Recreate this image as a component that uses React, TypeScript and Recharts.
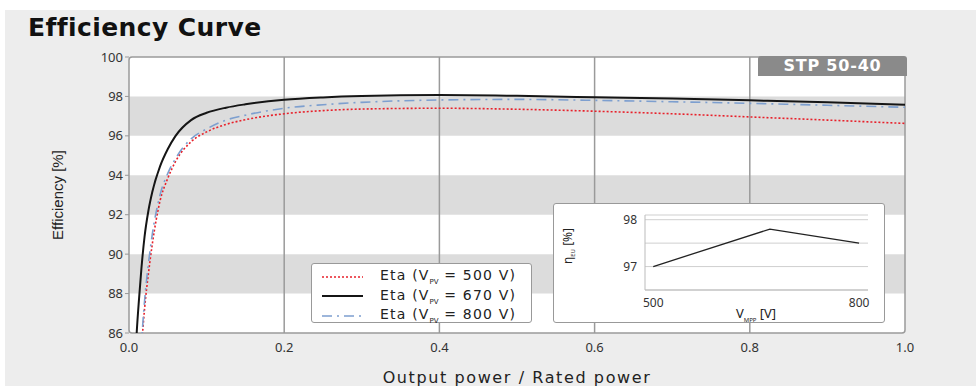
import React from "react";
import {
  LineChart,
  Line,
  XAxis,
  YAxis,
  CartesianGrid,
  ReferenceArea,
  ReferenceLine,
} from "recharts";

// output power / rated power
const load = [0.008, 0.01, 0.013, 0.016, 0.02, 0.025, 0.03, 0.04, 0.05, 0.06, 0.08, 0.1, 0.125, 0.15, 0.2, 0.25, 0.3, 0.4, 0.5, 0.6, 0.7, 0.8, 0.9, 1.0];
const eta500 = [78, 80, 82.8, 85.1, 87.2, 89.0, 90.5, 92.7, 93.85, 94.7, 95.7, 96.2, 96.58, 96.82, 97.12, 97.28, 97.36, 97.4, 97.35, 97.25, 97.12, 96.96, 96.8, 96.63];
const eta670 = [84.57, 86.07, 87.77, 89.27, 90.87, 92.2, 93.15, 94.45, 95.33, 96.0, 96.8, 97.17, 97.43, 97.6, 97.83, 97.95, 98.02, 98.07, 98.03, 97.96, 97.89, 97.8, 97.7, 97.58];
const eta800 = [78.5, 80.5, 83.2, 85.4, 87.6, 89.5, 91.0, 93.0, 94.1, 94.85, 95.85, 96.35, 96.8, 97.05, 97.4, 97.58, 97.7, 97.82, 97.85, 97.8, 97.73, 97.65, 97.55, 97.45];

const yTicks = [86, 88, 90, 92, 94, 96, 98, 100];
const xTicks = [0, 0.2, 0.4, 0.6, 0.8, 1.0];
const bands: [number, number][] = [[88, 90], [92, 94], [96, 98]];

// inset: euro efficiency vs MPP voltage
const vmpp = [500, 670, 800];
const etaEu = [97.0, 97.8, 97.5];

const series = [
  { key: "eta500", volt: "500", color: "#e8202a", width: 1.6, dash: "2 2" },
  { key: "eta670", volt: "670", color: "#151515", width: 2, dash: undefined },
  { key: "eta800", volt: "800", color: "#7d9fcf", width: 1.6, dash: "10 5 2 5" },
];

const data = load.map((x, i) => ({
  x,
  eta500: eta500[i],
  eta670: eta670[i],
  eta800: eta800[i],
}));
const insetData = vmpp.map((v, i) => ({ v, eta: etaEu[i] }));

const font = "'Noto Sans', 'DejaVu Sans', sans-serif";
const wide = "'DejaVu Sans', sans-serif";
const tick = { fill: "#333", fontSize: 13, fontFamily: font };

export default function App() {
  return (
    <div style={{ position: "absolute", left: 0, top: 0, width: 976, height: 386, background: "#fff", overflow: "hidden" }}>
      <div style={{ position: "absolute", left: 5, top: 10, width: 971, height: 376, background: "#ededed" }} />
      <div
        style={{
          position: "absolute",
          left: 28,
          top: 14,
          fontFamily: wide,
          fontWeight: 700,
          fontSize: 25,
          letterSpacing: 0.4,
          color: "#111",
          lineHeight: "28px",
        }}
      >
        Efficiency Curve
      </div>
      <div
        style={{
          position: "absolute",
          left: 57,
          top: 195,
          transform: "translate(-50%, -50%) rotate(-90deg)",
          fontFamily: "'Liberation Sans Narrow', 'Liberation Sans', sans-serif",
          fontSize: 15,
          color: "#222",
          whiteSpace: "nowrap",
        }}
      >
        Efficiency [%]
      </div>
      <div
        style={{
          position: "absolute",
          left: 517,
          top: 377,
          transform: "translate(-50%, -50%)",
          fontFamily: wide,
          fontSize: 16,
          letterSpacing: 1.6,
          color: "#222",
          whiteSpace: "nowrap",
        }}
      >
        Output power / Rated power
      </div>

      <div style={{ position: "absolute", left: 0, top: 0 }}>
        <LineChart width={976} height={386} data={data} margin={{ top: 57, right: 71, bottom: 23, left: 89 }}>
          <XAxis
            dataKey="x"
            type="number"
            domain={[0, 1]}
            ticks={xTicks}
            tickFormatter={(v: number) => v.toFixed(1)}
            tick={tick}
            axisLine={false}
            tickLine={false}
            height={30}
            tickMargin={4}
          />
          <YAxis
            type="number"
            domain={[86, 100]}
            ticks={yTicks}
            allowDataOverflow
            tick={tick}
            axisLine={false}
            tickLine={{ stroke: "#999" }}
            tickSize={4}
            width={40}
            interval={0}
          />
          <ReferenceArea x1={0} x2={1} y1={86} y2={100} fill="#fff" fillOpacity={1} stroke="none" />
          {bands.map(([a, b]) => (
            <ReferenceArea key={a} x1={0} x2={1} y1={a} y2={b} fill="#dcdcdc" fillOpacity={1} stroke="none" />
          ))}
          {xTicks.slice(1, -1).map((t) => (
            <ReferenceLine key={t} x={t} stroke="#9a9a9a" strokeWidth={1.5} />
          ))}
          {series.map((s) => (
            <Line
              key={s.key}
              type="monotone"
              dataKey={s.key}
              stroke={s.color}
              strokeWidth={s.width}
              strokeDasharray={s.dash}
              dot={false}
              isAnimationActive={false}
            />
          ))}
          <ReferenceArea x1={0} x2={1} y1={86} y2={100} fill="none" stroke="#9a9a9a" strokeWidth={1.5} radius={3} />
        </LineChart>
      </div>

      <div
        style={{
          position: "absolute",
          left: 758,
          top: 56,
          width: 149,
          height: 20,
          background: "#8a8a8a",
          borderTopLeftRadius: 3,
          borderTopRightRadius: 3,
          color: "#fff",
          fontFamily: wide,
          fontWeight: 700,
          fontSize: 16,
          letterSpacing: 0.8,
          lineHeight: "20px",
          textAlign: "center",
        }}
      >
        STP 50-40
      </div>

      {/* legend */}
      <div
        style={{
          position: "absolute",
          left: 311,
          top: 263,
          width: 221,
          height: 60,
          background: "#fff",
          border: "1px solid #999",
          borderRadius: 3,
          fontFamily: wide,
          fontSize: 14,
          letterSpacing: 1.2,
          color: "#222",
          paddingTop: 3,
          boxSizing: "border-box",
        }}
      >
        {series.map((s) => (
          <div key={s.key} style={{ display: "flex", alignItems: "center", height: 19.5 }}>
            <svg width={58} height={10} style={{ marginLeft: 10 }}>
              <line x1={0} y1={5} x2={41} y2={5} stroke={s.color} strokeWidth={s.width} strokeDasharray={s.dash} />
            </svg>
            <span style={{ whiteSpace: "nowrap" }}>
              Eta (V<sub style={{ fontSize: 7, letterSpacing: 0 }}>PV</sub> = {s.volt} V)
            </span>
          </div>
        ))}
      </div>

      {/* inset */}
      <div
        style={{
          position: "absolute",
          left: 553,
          top: 203,
          width: 332,
          height: 120,
          background: "#fff",
          border: "1px solid #999",
          borderRadius: 3,
          boxSizing: "border-box",
        }}
      >
        <div style={{ position: "absolute", left: -1, top: -1 }}>
          <LineChart width={332} height={120} data={insetData} margin={{ top: 12, right: 17, bottom: 3, left: 62 }}>
            <CartesianGrid vertical={false} stroke="#cfcfcf" />
            <XAxis
              dataKey="v"
              type="number"
              domain={[488, 813]}
              ticks={[500, 800]}
              tick={{ ...tick, fontSize: 12 }}
              axisLine={{ stroke: "#bbb" }}
              tickLine={false}
              height={30}
              tickMargin={2}
            />
            <YAxis
              type="number"
              domain={[96.5, 98.1]}
              ticks={[97, 97.5, 98]}
              tickFormatter={(v: number) => (v % 1 === 0 ? String(v) : "")}
              tick={{ ...tick, fontSize: 12 }}
              axisLine={{ stroke: "#bbb" }}
              tickLine={false}
              width={30}
              interval={0}
            />
            <Line type="linear" dataKey="eta" stroke="#222" strokeWidth={1.3} dot={false} isAnimationActive={false} />
          </LineChart>
        </div>
        <div
          style={{
            position: "absolute",
            left: 14,
            top: 42,
            transform: "translate(-50%, -50%) rotate(-90deg)",
            fontFamily: font,
            fontSize: 12,
            color: "#222",
            whiteSpace: "nowrap",
          }}
        >
          η<sub style={{ fontSize: 6 }}>EU</sub> [%]
        </div>
        <div
          style={{
            position: "absolute",
            left: 202,
            top: 110,
            transform: "translate(-50%, -50%)",
            fontFamily: font,
            fontSize: 13,
            color: "#222",
            whiteSpace: "nowrap",
          }}
        >
          V<sub style={{ fontSize: 6 }}>MPP</sub> [V]
        </div>
      </div>
    </div>
  );
}
